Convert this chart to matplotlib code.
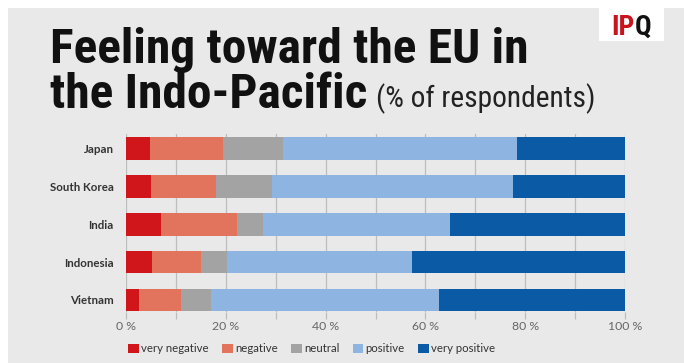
import matplotlib
matplotlib.use("Agg")
import matplotlib.pyplot as plt
from matplotlib.patches import Rectangle, Patch
from matplotlib import font_manager as fm

countries = ["Japan", "South Korea", "India", "Indonesia", "Vietnam"]
categories = ["very negative", "negative", "neutral", "positive", "very positive"]
very_negative = [4.8, 5.0, 7.0, 5.2, 2.6]
negative = [14.7, 13.0, 15.2, 9.8, 8.4]
neutral = [12.0, 11.2, 5.3, 5.2, 6.0]
positive = [46.9, 48.3, 37.4, 37.2, 45.7]
very_positive = [21.6, 22.5, 35.1, 42.6, 37.3]
series = [very_negative, negative, neutral, positive, very_positive]
colors = ["#d0161b", "#e2735c", "#a3a3a3", "#8eb4e2", "#0b5aa5"]
tick_labels = ["0 %", "20 %", "40 %", "60 %", "80 %", "100 %"]


def weight_of(f):
    w = f.weight
    if isinstance(w, str):
        w = fm.weight_dict.get(w, 400)
    return int(w)


def find_condensed(bold):
    pref = ["roboto condensed", "open sans condensed", "noto sans", "liberation sans narrow",
            "dejavu sans", "lato"]
    best = None
    for f in fm.fontManager.ttflist:
        fn = f.fname.lower()
        n = f.name.lower()
        st = str(f.stretch).lower()
        if any(k in fn for k in ("italic", "oblique", "semicond", "extracond", "ultracond", "semi")):
            continue
        cond = ("condensed" in st or "condensed" in fn or "narrow" in fn
                or "condensed" in n or "narrow" in n)
        if not cond:
            continue
        w = weight_of(f)
        if bold and not (650 <= w <= 750):
            continue
        if not bold and w != 400:
            continue
        rank = len(pref)
        for i, p in enumerate(pref):
            if n.startswith(p):
                rank = i
                break
        if best is None or rank < best[0]:
            best = (rank, f.fname)
    if best:
        return fm.FontProperties(fname=best[1])
    return fm.FontProperties(family=["Lato", "DejaVu Sans"], weight="bold" if bold else "normal")


bold_fp = find_condensed(True)
reg_fp = find_condensed(False)

W, H = 684, 363
fig = plt.figure(figsize=(W / 100, H / 100), dpi=100, facecolor="white")
bg = "#e9e9e9"
fig.patches.append(Rectangle((8 / W, 0), 1 - 8 / W, 1 - 8 / H, transform=fig.transFigure,
                             facecolor=bg, edgecolor="none", zorder=-10))

ax = fig.add_axes([126 / W, 1 - 312 / H, (625 - 126) / W, (312 - 134) / H])
ax.set_facecolor(bg)
left = [0.0] * len(countries)
ypos = list(range(len(countries)))
for vals, col, name in zip(series, colors, categories):
    ax.barh(ypos, vals, left=left, height=0.6, color=col, label=name, zorder=3)
    left = [l + v for l, v in zip(left, vals)]

ax.set_xlim(0, 100)
ax.set_ylim(4.32, -0.39)
ax.set_xticks(range(0, 101, 10))
ax.set_xticklabels([tick_labels[i // 2] if i % 2 == 0 else "" for i in range(11)],
                   family=["Lato", "DejaVu Sans"])
ax.grid(axis="x", color="#bdbdbd", linewidth=0.9, zorder=0)
ax.tick_params(axis="x", length=5, width=0.9, color="#bdbdbd", labelsize=8.8,
               labelcolor="#666666", pad=1.5)
ax.set_yticks(ypos)
ax.set_yticklabels(countries, fontsize=8.3, fontweight="bold", color="#333333",
                   family=["Lato", "DejaVu Sans"])
ax.tick_params(axis="y", length=0, pad=9)
for s in ax.spines.values():
    s.set_visible(False)

handles = [Patch(facecolor=c, edgecolor="none") for c in colors]
fig.legend(handles, categories, loc="center left", bbox_to_anchor=(118 / W, 1 - 349 / H),
           ncol=5, frameon=False, prop=fm.FontProperties(family=["Lato", "DejaVu Sans"], size=8.2),
           handlelength=0.95, handleheight=0.95, handletextpad=0.2, columnspacing=1.15,
           labelcolor="#333333")

t1 = fig.text(50 / W, 1 - 63 / H, "Feeling toward the EU in", fontproperties=bold_fp,
              fontsize=33, color="#111111", va="baseline")
t2 = fig.text(50 / W, 1 - 108 / H, "the Indo-Pacific", fontproperties=bold_fp,
              fontsize=33, color="#111111", va="baseline")
t3 = fig.text(376 / W, 1 - 107 / H, "(% of respondents)", fontproperties=reg_fp,
              fontsize=16, color="#222222", va="baseline")

fig.patches.append(Rectangle((599 / W, 1 - 41 / H), 65 / W, 41 / H, transform=fig.transFigure,
                             facecolor="white", edgecolor="none", zorder=-5))
l1 = fig.text(611 / W, 1 - 35 / H, "IP", fontproperties=bold_fp, fontsize=17,
              ha="left", va="baseline", color="#c8141c")
l2 = fig.text(632 / W, 1 - 35 / H, "Q", fontproperties=bold_fp, fontsize=17,
              ha="left", va="baseline", color="#111111")

# fit sizes to the reference widths
r = fig.canvas.get_renderer()
w1 = t1.get_window_extent(r).width
s = 33 * 478 / w1
t1.set_fontsize(s)
t2.set_fontsize(s)
w3 = t3.get_window_extent(r).width
t3.set_fontsize(16 * 221 / w3)
wa = l1.get_window_extent(r).width
wb = l2.get_window_extent(r).width
ls = 17 * 40 / (wa + wb)
l1.set_fontsize(ls)
l2.set_fontsize(ls)
wa = l1.get_window_extent(r).width
l2.set_x((611 + wa) / W)

fig.savefig("out.png", dpi=100, facecolor="white")
